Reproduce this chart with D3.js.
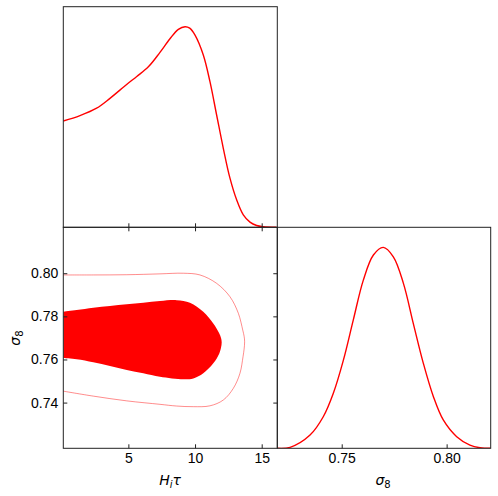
<!DOCTYPE html>
<html>
<head>
<meta charset="utf-8">
<script src="https://cdn.jsdelivr.net/npm/d3@7"></script>
<style>
  body { margin: 0; background: #fff; }
  svg { display: block; font-family: "DejaVu Sans", sans-serif; }
  .tick text { font-size: 14px; fill: #000; }
  .tick line { stroke: #222; stroke-width: 1; }
</style>
</head>
<body>
<svg id="chart" width="498" height="496"></svg>
<script>
// ---------- data ----------
const tauGrid = [0.12, 1.37, 2.62, 3.62, 4.87, 5.63, 6.5, 7.37, 8.12, 8.75, 9.25, 9.6, 10.0, 10.62, 11.12, 11.62, 12.12, 12.62, 13.12, 13.62, 14.12, 14.62, 15.12, 16.1];
const tauDensity = [0.530, 0.557, 0.594, 0.643, 0.712, 0.752, 0.800, 0.872, 0.940, 0.987, 1.0, 0.993, 0.958, 0.859, 0.726, 0.560, 0.394, 0.245, 0.137, 0.062, 0.026, 0.009, 0.003, 0.0];

const s8Grid = [0.7193, 0.7254, 0.7349, 0.7412, 0.7460, 0.7508, 0.7555, 0.7603, 0.7651, 0.7698, 0.7746, 0.7794, 0.7841, 0.7889, 0.7937, 0.7984, 0.8048, 0.8111, 0.8159, 0.8210];
const s8Density = [0.0, 0.005, 0.066, 0.157, 0.274, 0.439, 0.638, 0.837, 0.962, 1.0, 0.953, 0.821, 0.622, 0.423, 0.257, 0.141, 0.058, 0.016, 0.003, 0.0];

// 68% region (filled), traced from left-edge top, round the right end, back to left-edge bottom
const innerTau = [0.12, 1.12, 2.37, 3.62, 4.88, 6.12, 7.37, 8.62, 9.62, 10.62, 11.37, 11.82, 11.95, 12.0, 11.95, 11.82, 11.37, 10.62, 9.87, 9.12, 7.37, 6.12, 4.88, 3.62, 2.37, 1.12, 0.12];
const innerS8 = [0.7821, 0.7829, 0.7840, 0.7848, 0.7856, 0.7863, 0.7871, 0.7875, 0.7863, 0.7821, 0.7767, 0.7721, 0.7700, 0.7680, 0.7655, 0.7628, 0.7582, 0.7536, 0.7512, 0.7508, 0.7520, 0.7536, 0.7551, 0.7570, 0.7587, 0.7601, 0.7607];

// 95% region (outline)
const outerTau = [0.12, 2.37, 4.88, 7.37, 9.12, 10.37, 11.62, 12.62, 13.25, 13.58, 13.68, 13.72, 13.68, 13.6, 13.37, 12.87, 12.12, 11.12, 9.87, 8.62, 7.37, 4.88, 2.37, 0.12];
const outerS8 = [0.7992, 0.7992, 0.7993, 0.7997, 0.8000, 0.7992, 0.7953, 0.7891, 0.7814, 0.7736, 0.7708, 0.7682, 0.7648, 0.7613, 0.7536, 0.7466, 0.7412, 0.7385, 0.7381, 0.7384, 0.7392, 0.7408, 0.7430, 0.7453];

const tauTicks = [5, 10, 15];
const s8Ticks = [0.74, 0.76, 0.78, 0.80];
const s8XTicks = [0.75, 0.80];

// ---------- layout ----------
const L = 63.3, M = 277.3, R = 490.7, T = 6.7, MID = 227.3, B = 448.3;
const svg = d3.select("#chart");

const xTau = d3.scaleLinear().domain([0.12, 16.17]).range([L, M]);
const yS8 = d3.scaleLinear().domain([0.7188, 0.8213]).range([B, MID]);
const xS8 = d3.scaleLinear().domain([0.7193, 0.8210]).range([M, R]);
const yTop = d3.scaleLinear().domain([0, 1.1]).range([MID, T]);
const yBR = d3.scaleLinear().domain([0, 1.1]).range([B, MID]);

const defs = svg.append("defs");
function clip(id, x, y, w, h) {
  defs.append("clipPath").attr("id", id).append("rect").attr("x", x).attr("y", y).attr("width", w).attr("height", h);
}
clip("cTop", L, T, M - L, MID - T);
clip("c2d", L, MID, M - L, B - MID);
clip("cBR", M, MID, R - M, B - MID);

const smooth = d3.curveCatmullRom.alpha(0.5);

// top marginal
const tauData = tauGrid.map((t, i) => [t, tauDensity[i]]);
svg.append("path")
  .attr("clip-path", "url(#cTop)")
  .attr("d", d3.line().x(d => xTau(d[0])).y(d => yTop(d[1])).curve(smooth)(tauData))
  .attr("fill", "none").attr("stroke", "#ff0000").attr("stroke-width", 1.4);

// 2D contours
const innerData = innerTau.map((t, i) => [t, innerS8[i]]);
const outerData = outerTau.map((t, i) => [t, outerS8[i]]);
const line2d = d3.line().x(d => xTau(d[0])).y(d => yS8(d[1])).curve(smooth);
svg.append("path")
  .attr("clip-path", "url(#c2d)")
  .attr("d", line2d(innerData) + "Z")
  .attr("fill", "#ff0000").attr("stroke", "none");
svg.append("path")
  .attr("clip-path", "url(#c2d)")
  .attr("d", line2d(outerData))
  .attr("fill", "none").attr("stroke", "#ff0000").attr("stroke-opacity", 0.45).attr("stroke-width", 1);

// right marginal
const s8Data = s8Grid.map((s, i) => [s, s8Density[i]]);
svg.append("path")
  .attr("clip-path", "url(#cBR)")
  .attr("d", d3.line().x(d => xS8(d[0])).y(d => yBR(d[1])).curve(smooth)(s8Data))
  .attr("fill", "none").attr("stroke", "#ff0000").attr("stroke-width", 1.4);

// axes
function addAxis(axis, tx, ty, labels) {
  const g = svg.append("g").attr("transform", `translate(${tx},${ty})`).call(axis);
  g.select(".domain").remove();
  if (!labels) g.selectAll(".tick text").remove();
  return g;
}
const TS = -4;
addAxis(d3.axisBottom(xTau).tickValues(tauTicks).tickSize(TS), 0, MID, false);
addAxis(d3.axisBottom(xTau).tickValues(tauTicks).tickSize(TS).tickPadding(5).tickFormat(d3.format("d")), 0, B, true);
addAxis(d3.axisTop(xTau).tickValues(tauTicks).tickSize(TS), 0, MID, false);
addAxis(d3.axisLeft(yS8).tickValues(s8Ticks).tickSize(TS).tickPadding(5).tickFormat(d3.format(".2f")), L, 0, true);
addAxis(d3.axisRight(yS8).tickValues(s8Ticks).tickSize(TS), M, 0, false);
addAxis(d3.axisBottom(xS8).tickValues(s8XTicks).tickSize(TS).tickPadding(5).tickFormat(d3.format(".2f")), 0, B, true);

// frames
function frame(x0, y0, x1, y1) {
  svg.append("rect").attr("x", x0).attr("y", y0).attr("width", x1 - x0).attr("height", y1 - y0)
    .attr("fill", "none").attr("stroke", "#222").attr("stroke-width", 1);
}
frame(L, T, M, MID);
frame(L, MID, M, B);
frame(M, MID, R, B);

// labels
const xl = svg.append("text").attr("x", 170).attr("y", 485).attr("text-anchor", "middle")
  .style("font-size", "14px").style("font-style", "italic");
xl.append("tspan").text("H");
xl.append("tspan").attr("dy", 3).style("font-size", "10px").text("i");
xl.append("tspan").attr("dy", -3).text("τ");

const xl2 = svg.append("text").attr("x", 383).attr("y", 485).attr("text-anchor", "middle")
  .style("font-size", "14px");
xl2.append("tspan").style("font-style", "italic").text("σ");
xl2.append("tspan").attr("dy", 3).style("font-size", "10px").text("8");

const yl = svg.append("text").attr("transform", "translate(20,338) rotate(-90)").attr("text-anchor", "middle")
  .style("font-size", "14px");
yl.append("tspan").style("font-style", "italic").text("σ");
yl.append("tspan").attr("dy", 3).style("font-size", "10px").text("8");
</script>
</body>
</html>
